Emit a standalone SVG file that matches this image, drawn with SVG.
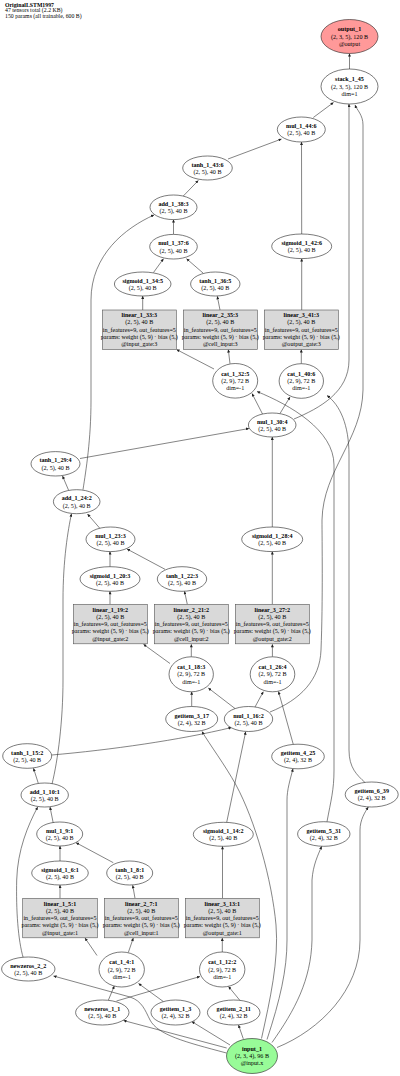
<svg xmlns="http://www.w3.org/2000/svg" width="400" height="1076" viewBox="0 0 400 1076">
<style>
text{font-family:"Liberation Serif","Times New Roman",serif;font-size:6.1px;text-anchor:middle;fill:#000}
.h{font-size:5.8px;text-anchor:start}
.t{font-weight:bold}
.n ellipse{fill:#fff;stroke:#222;stroke-width:0.6}
.b rect{fill:#d9d9d9;stroke:#555;stroke-width:0.6}
#output_1 ellipse{fill:#ff9999}
#input_1 ellipse{fill:#98fb98}
#edges path{fill:none;stroke:#333;stroke-width:0.6;marker-end:url(#a)}
</style>
<defs>
<marker id="a" viewBox="0 0 10 10" refX="10" refY="5" markerWidth="3.6" markerHeight="3" markerUnits="userSpaceOnUse" orient="auto"><path d="M0,0L10,5L0,10z" fill="#222"/></marker>
</defs>
<rect width="400" height="1076" fill="#fff"/>
<g id="header">
<text class="h t" x="5" y="6.5">OriginalLSTM1997</text>
<text class="h" x="5" y="12">47 tensors total (2.2 KB)</text>
<text class="h" x="5" y="17.5">150 params (all trainable, 600 B)</text>
</g>
<g id="edges">
<path d="M349.5,69 L349.5,53.5"/>
<path d="M313.3,117.5 L333.5,102.5"/>
<path d="M294,419 C320,408 349,392 349,360 L349,104"/>
<path d="M270,712 C300,700 320,680 321,650 C323,600 322,540 322,520 C323,470 362,440 363,390 L363,125 C363,115 357,110 355,105"/>
<path d="M301.7,234 L301.5,142"/>
<path d="M228,159 L281.5,139"/>
<path d="M183.3,196 L198.3,180.5"/>
<path d="M173.5,234.2 L173.5,219.6"/>
<path d="M83,489.7 C86,470 91,440 91,400 L91,300 C91,255 125,228 154,215"/>
<path d="M153.5,272.5 L163.5,258.7"/>
<path d="M203,273 L186.5,258.7"/>
<path d="M142.7,310 L142.7,296"/>
<path d="M220,310 L217.3,296.3"/>
<path d="M301.7,310 L301.7,258.6"/>
<path d="M214,369 L176.5,349.5"/>
<path d="M230,363.7 L228.3,349.5"/>
<path d="M301.3,363.7 L301.3,349.5"/>
<path d="M262.5,414 L252,393.5"/>
<path d="M280,413.5 L290,397"/>
<path d="M327,821.7 C331,800 334,790 334,770 L334,465 C334,430 290,405 257,391.5"/>
<path d="M365,782.5 C357,775 349,768 349,750 L349,455 C349,425 340,405 327,395.5"/>
<path d="M272.3,527 L272.3,437"/>
<path d="M80,458.5 L249,428.5"/>
<path d="M68.5,490 L62.5,476"/>
<path d="M100,528.5 L87.5,514"/>
<path d="M52,784 C58,760 63,720 63,680 L63,600 C63,560 68,530 71.5,513.7"/>
<path d="M110,566.7 L110,551.6"/>
<path d="M165,569.3 L127,549"/>
<path d="M110,604.3 L110,591.3"/>
<path d="M187.3,604.3 L184.5,591.3"/>
<path d="M272.3,604.3 L272.3,551.6"/>
<path d="M170,663.5 L143.5,644.3"/>
<path d="M191.3,656.8 L191.3,644.3"/>
<path d="M272.4,656.8 L272.4,644.3"/>
<path d="M191.7,706.5 L191.7,691.8"/>
<path d="M235,708.5 L208.3,688"/>
<path d="M255,707 L263.3,691.7"/>
<path d="M293.3,744.5 L278.5,691.5"/>
<path d="M51.7,755 C110,750 180,740 231.5,727.5"/>
<path d="M226.7,822.3 L245.7,731.7"/>
<path d="M261.5,1038.5 C270,1000 279,960 276,925 C272,880 255,820 236,785 C225,765 210,745 202,731.5"/>
<path d="M38.3,783.3 L33.5,768.3"/>
<path d="M267,1039.5 C280,1000 287,970 287,940 L287,800 C287,790 290,780 293,768.8"/>
<path d="M272,1042.5 C295,1010 311,980 312,940 L312,880 C313,865 318,855 321.7,846.3"/>
<path d="M277,1047.5 C320,1030 360,990 360,940 L360,830 C360,820 365,812 368.3,807"/>
<path d="M53.3,823.3 L50,807"/>
<path d="M23.3,958 C18,940 16,910 16.7,880 C17.5,850 28,825 37.7,807"/>
<path d="M60,861 L60,846"/>
<path d="M113.3,862.7 L76,842.7"/>
<path d="M60,898.3 L60,885"/>
<path d="M135,898.3 L132.7,885.2"/>
<path d="M222.5,898.3 L222.5,846.3"/>
<path d="M97,955.5 L85,938"/>
<path d="M128.3,952.5 L133.3,938"/>
<path d="M222.3,952 L222.3,938"/>
<path d="M108.3,1000.3 L114.3,986"/>
<path d="M163.3,1001.5 L138.5,983.5"/>
<path d="M116.5,1001 L200,976.5"/>
<path d="M240,1000.5 L228.5,986.5"/>
<path d="M226.7,1048 L123.5,1020.5"/>
<path d="M226.5,1053 C185,1042 158,1035 150,1020 C145,1010 142,1001 130,997 L53.5,976"/>
<path d="M230,1045 L191.7,1021.5"/>
<path d="M243.3,1038.8 L238.5,1025"/>
</g>
<g id="output_1" class="n"><ellipse cx="349.5" cy="36.5" rx="28.5" ry="17"/><text class="t" x="349.5" y="31.3">output_1</text><text x="349.5" y="38.6">(2, 3, 5), 120 B</text><text x="349.5" y="45.9">@output</text></g>
<g id="stack_1_45" class="n"><ellipse cx="349.5" cy="86.5" rx="28.5" ry="17.5"/><text class="t" x="349.5" y="81.3">stack_1_45</text><text x="349.5" y="88.6">(2, 3, 5), 120 B</text><text x="349.5" y="95.9">dim=1</text></g>
<g id="mul_1_44" class="n"><ellipse cx="301.3" cy="129.5" rx="24" ry="12.5"/><text class="t" x="301.3" y="128">mul_1_44:6</text><text x="301.3" y="135.3">(2, 5), 40 B</text></g>
<g id="tanh_1_43" class="n"><ellipse cx="207.5" cy="168" rx="24.8" ry="12"/><text class="t" x="207.5" y="166.5">tanh_1_43:6</text><text x="207.5" y="173.8">(2, 5), 40 B</text></g>
<g id="add_1_38" class="n"><ellipse cx="173.5" cy="207.3" rx="23.5" ry="12.3"/><text class="t" x="173.5" y="205.8">add_1_38:3</text><text x="173.5" y="213.1">(2, 5), 40 B</text></g>
<g id="mul_1_37" class="n"><ellipse cx="173.5" cy="246.7" rx="23.8" ry="12.3"/><text class="t" x="173.5" y="245.2">mul_1_37:6</text><text x="173.5" y="252.5">(2, 5), 40 B</text></g>
<g id="sigmoid_1_42" class="n"><ellipse cx="301.7" cy="246.3" rx="30" ry="12.3"/><text class="t" x="301.7" y="244.8">sigmoid_1_42:6</text><text x="301.7" y="252.1">(2, 5), 40 B</text></g>
<g id="sigmoid_1_34" class="n"><ellipse cx="142.7" cy="284" rx="28.3" ry="12"/><text class="t" x="142.7" y="282.5">sigmoid_1_34:5</text><text x="142.7" y="289.8">(2, 5), 40 B</text></g>
<g id="tanh_1_36" class="n"><ellipse cx="215.3" cy="284" rx="24.7" ry="12"/><text class="t" x="215.3" y="282.5">tanh_1_36:5</text><text x="215.3" y="289.8">(2, 5), 40 B</text></g>
<g id="linear_1_33" class="b"><rect x="102.3" y="310" width="74" height="39.5"/><text class="t" x="139.3" y="316.9">linear_1_33:3</text><text x="139.3" y="324.2">(2, 5), 40 B</text><text x="139.3" y="331.5">in_features=9, out_features=5</text><text x="139.3" y="338.8">params: weight (5, 9) · bias (5,)</text><text x="139.3" y="346.1">@input_gate:3</text></g>
<g id="linear_2_35" class="b"><rect x="183.3" y="310" width="74" height="39.5"/><text class="t" x="220.3" y="316.9">linear_2_35:3</text><text x="220.3" y="324.2">(2, 5), 40 B</text><text x="220.3" y="331.5">in_features=9, out_features=5</text><text x="220.3" y="338.8">params: weight (5, 9) · bias (5,)</text><text x="220.3" y="346.1">@cell_input:3</text></g>
<g id="linear_3_41" class="b"><rect x="264.3" y="310" width="74" height="39.5"/><text class="t" x="301.3" y="316.9">linear_3_41:3</text><text x="301.3" y="324.2">(2, 5), 40 B</text><text x="301.3" y="331.5">in_features=9, out_features=5</text><text x="301.3" y="338.8">params: weight (5, 9) · bias (5,)</text><text x="301.3" y="346.1">@output_gate:3</text></g>
<g id="cat_1_32" class="n"><ellipse cx="235.2" cy="380.8" rx="22.5" ry="17.3"/><text class="t" x="235.2" y="375.6">cat_1_32:5</text><text x="235.2" y="382.9">(2, 9), 72 B</text><text x="235.2" y="390.2">dim=-1</text></g>
<g id="cat_1_40" class="n"><ellipse cx="301.3" cy="381" rx="22.2" ry="17.3"/><text class="t" x="301.3" y="375.8">cat_1_40:6</text><text x="301.3" y="383.1">(2, 9), 72 B</text><text x="301.3" y="390.4">dim=-1</text></g>
<g id="mul_1_30" class="n"><ellipse cx="272.2" cy="425" rx="23.8" ry="12"/><text class="t" x="272.2" y="423.5">mul_1_30:4</text><text x="272.2" y="430.8">(2, 5), 40 B</text></g>
<g id="tanh_1_29" class="n"><ellipse cx="55.5" cy="463.8" rx="24.5" ry="12.2"/><text class="t" x="55.5" y="462.3">tanh_1_29:4</text><text x="55.5" y="469.6">(2, 5), 40 B</text></g>
<g id="add_1_24" class="n"><ellipse cx="76.7" cy="501.7" rx="23.3" ry="12"/><text class="t" x="76.7" y="500.2">add_1_24:2</text><text x="76.7" y="507.5">(2, 5), 40 B</text></g>
<g id="mul_1_23" class="n"><ellipse cx="110.5" cy="539.3" rx="24.5" ry="12.3"/><text class="t" x="110.5" y="537.8">mul_1_23:3</text><text x="110.5" y="545.1">(2, 5), 40 B</text></g>
<g id="sigmoid_1_28" class="n"><ellipse cx="272.2" cy="539.3" rx="30.5" ry="12.3"/><text class="t" x="272.2" y="537.8">sigmoid_1_28:4</text><text x="272.2" y="545.1">(2, 5), 40 B</text></g>
<g id="sigmoid_1_20" class="n"><ellipse cx="110" cy="579" rx="30" ry="12.3"/><text class="t" x="110" y="577.5">sigmoid_1_20:3</text><text x="110" y="584.8">(2, 5), 40 B</text></g>
<g id="tanh_1_22" class="n"><ellipse cx="182" cy="579" rx="24.7" ry="12.3"/><text class="t" x="182" y="577.5">tanh_1_22:3</text><text x="182" y="584.8">(2, 5), 40 B</text></g>
<g id="linear_1_19" class="b"><rect x="73.3" y="604.3" width="74" height="39.5"/><text class="t" x="110.3" y="611.5">linear_1_19:2</text><text x="110.3" y="618.8">(2, 5), 40 B</text><text x="110.3" y="626.1">in_features=9, out_features=5</text><text x="110.3" y="633.4">params: weight (5, 9) · bias (5,)</text><text x="110.3" y="640.7">@input_gate:2</text></g>
<g id="linear_2_21" class="b"><rect x="154.3" y="604.3" width="74" height="39.5"/><text class="t" x="191.3" y="611.5">linear_2_21:2</text><text x="191.3" y="618.8">(2, 5), 40 B</text><text x="191.3" y="626.1">in_features=9, out_features=5</text><text x="191.3" y="633.4">params: weight (5, 9) · bias (5,)</text><text x="191.3" y="640.7">@cell_input:2</text></g>
<g id="linear_3_27" class="b"><rect x="235.3" y="604.3" width="74" height="39.5"/><text class="t" x="272.3" y="611.5">linear_3_27:2</text><text x="272.3" y="618.8">(2, 5), 40 B</text><text x="272.3" y="626.1">in_features=9, out_features=5</text><text x="272.3" y="633.4">params: weight (5, 9) · bias (5,)</text><text x="272.3" y="640.7">@output_gate:2</text></g>
<g id="cat_1_18" class="n"><ellipse cx="191.2" cy="674.3" rx="22.2" ry="17.5"/><text class="t" x="191.2" y="669.1">cat_1_18:3</text><text x="191.2" y="676.4">(2, 9), 72 B</text><text x="191.2" y="683.7">dim=-1</text></g>
<g id="cat_1_26" class="n"><ellipse cx="272.5" cy="674.3" rx="22.3" ry="17.5"/><text class="t" x="272.5" y="669.1">cat_1_26:4</text><text x="272.5" y="676.4">(2, 9), 72 B</text><text x="272.5" y="683.7">dim=-1</text></g>
<g id="getitem_3_17" class="n"><ellipse cx="191.7" cy="719" rx="26" ry="12.5"/><text class="t" x="191.7" y="717.5">getitem_3_17</text><text x="191.7" y="724.8">(2, 4), 32 B</text></g>
<g id="mul_1_16" class="n"><ellipse cx="248.5" cy="719" rx="24.2" ry="12.5"/><text class="t" x="248.5" y="717.5">mul_1_16:2</text><text x="248.5" y="724.8">(2, 5), 40 B</text></g>
<g id="tanh_1_15" class="n"><ellipse cx="27.2" cy="756" rx="24.5" ry="12.3"/><text class="t" x="27.2" y="754.5">tanh_1_15:2</text><text x="27.2" y="761.8">(2, 5), 40 B</text></g>
<g id="getitem_4_25" class="n"><ellipse cx="298" cy="756.5" rx="26.3" ry="12.3"/><text class="t" x="298" y="755">getitem_4_25</text><text x="298" y="762.3">(2, 4), 32 B</text></g>
<g id="add_1_10" class="n"><ellipse cx="44.7" cy="795" rx="23.7" ry="12"/><text class="t" x="44.7" y="793.5">add_1_10:1</text><text x="44.7" y="800.8">(2, 5), 40 B</text></g>
<g id="getitem_6_39" class="n"><ellipse cx="371.7" cy="794.5" rx="26.5" ry="12.5"/><text class="t" x="371.7" y="793">getitem_6_39</text><text x="371.7" y="800.3">(2, 4), 32 B</text></g>
<g id="mul_1_9" class="n"><ellipse cx="59.7" cy="834" rx="23" ry="12"/><text class="t" x="59.7" y="832.5">mul_1_9:1</text><text x="59.7" y="839.8">(2, 5), 40 B</text></g>
<g id="sigmoid_1_14" class="n"><ellipse cx="223.3" cy="834.3" rx="30" ry="12"/><text class="t" x="223.3" y="832.8">sigmoid_1_14:2</text><text x="223.3" y="840.1">(2, 5), 40 B</text></g>
<g id="getitem_5_31" class="n"><ellipse cx="323.8" cy="834" rx="26.2" ry="12.3"/><text class="t" x="323.8" y="832.5">getitem_5_31</text><text x="323.8" y="839.8">(2, 4), 32 B</text></g>
<g id="sigmoid_1_6" class="n"><ellipse cx="60" cy="873" rx="28.3" ry="12"/><text class="t" x="60" y="871.5">sigmoid_1_6:1</text><text x="60" y="878.8">(2, 5), 40 B</text></g>
<g id="tanh_1_8" class="n"><ellipse cx="129.7" cy="873" rx="23" ry="12"/><text class="t" x="129.7" y="871.5">tanh_1_8:1</text><text x="129.7" y="878.8">(2, 5), 40 B</text></g>
<g id="linear_1_5" class="b"><rect x="22.7" y="898.3" width="74.6" height="39.5"/><text class="t" x="60" y="905.5">linear_1_5:1</text><text x="60" y="912.8">(2, 5), 40 B</text><text x="60" y="920.1">in_features=9, out_features=5</text><text x="60" y="927.4">params: weight (5, 9) · bias (5,)</text><text x="60" y="934.7">@input_gate:1</text></g>
<g id="linear_2_7" class="b"><rect x="104.3" y="898.3" width="74" height="39.5"/><text class="t" x="141.3" y="905.5">linear_2_7:1</text><text x="141.3" y="912.8">(2, 5), 40 B</text><text x="141.3" y="920.1">in_features=9, out_features=5</text><text x="141.3" y="927.4">params: weight (5, 9) · bias (5,)</text><text x="141.3" y="934.7">@cell_input:1</text></g>
<g id="linear_3_13" class="b"><rect x="185.3" y="898.3" width="74" height="39.5"/><text class="t" x="222.3" y="905.5">linear_3_13:1</text><text x="222.3" y="912.8">(2, 5), 40 B</text><text x="222.3" y="920.1">in_features=9, out_features=5</text><text x="222.3" y="927.4">params: weight (5, 9) · bias (5,)</text><text x="222.3" y="934.7">@output_gate:1</text></g>
<g id="newzeros_2_2" class="n"><ellipse cx="28.3" cy="969" rx="26.7" ry="12"/><text class="t" x="28.3" y="967.5">newzeros_2_2</text><text x="28.3" y="974.8">(2, 5), 40 B</text></g>
<g id="cat_1_4" class="n"><ellipse cx="121.7" cy="969.5" rx="22.7" ry="17.5"/><text class="t" x="121.7" y="964.3">cat_1_4:1</text><text x="121.7" y="971.6">(2, 9), 72 B</text><text x="121.7" y="978.9">dim=-1</text></g>
<g id="cat_1_12" class="n"><ellipse cx="222.2" cy="969.5" rx="22.7" ry="17.5"/><text class="t" x="222.2" y="964.3">cat_1_12:2</text><text x="222.2" y="971.6">(2, 9), 72 B</text><text x="222.2" y="978.9">dim=-1</text></g>
<g id="newzeros_1_1" class="n"><ellipse cx="102.3" cy="1012.5" rx="26.7" ry="12.5"/><text class="t" x="102.3" y="1011">newzeros_1_1</text><text x="102.3" y="1018.3">(2, 5), 40 B</text></g>
<g id="getitem_1_3" class="n"><ellipse cx="175.5" cy="1012.5" rx="24.5" ry="12.5"/><text class="t" x="175.5" y="1011">getitem_1_3</text><text x="175.5" y="1018.3">(2, 4), 32 B</text></g>
<g id="getitem_2_11" class="n"><ellipse cx="233.7" cy="1012.5" rx="26.3" ry="12.5"/><text class="t" x="233.7" y="1011">getitem_2_11</text><text x="233.7" y="1018.3">(2, 4), 32 B</text></g>
<g id="input_1" class="n"><ellipse cx="252" cy="1056" rx="25.5" ry="17.5"/><text class="t" x="252" y="1050.8">input_1</text><text x="252" y="1058.1">(2, 3, 4), 96 B</text><text x="252" y="1065.4">@input.x</text></g>
</svg>
